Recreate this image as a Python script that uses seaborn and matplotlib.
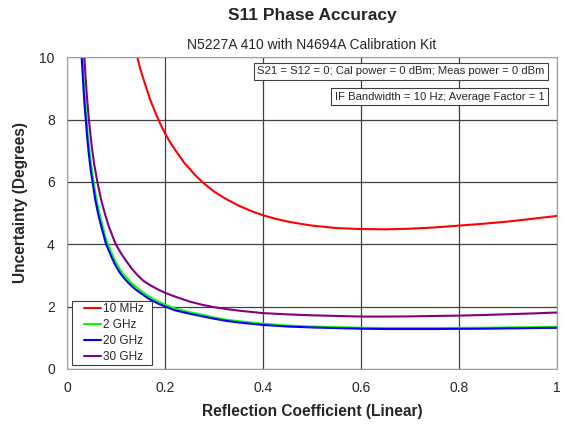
import pandas as pd
import seaborn as sns
import matplotlib.pyplot as plt
from matplotlib.legend_handler import HandlerLine2D
from matplotlib.lines import Line2D

# values
x_10mhz = [0.13, 0.135, 0.143, 0.15, 0.16, 0.17, 0.18, 0.19, 0.2, 0.21, 0.225, 0.24, 0.25,
           0.26, 0.275, 0.28, 0.3, 0.32, 0.35, 0.375, 0.4, 0.425, 0.45, 0.475, 0.5,
           0.55, 0.6, 0.65, 0.7, 0.75, 0.8, 0.85, 0.9, 0.95, 1.0]
y_10mhz = [11.0, 10.49, 10.0, 9.57, 9.08, 8.61, 8.22, 7.86, 7.55, 7.27, 6.92, 6.59, 6.42,
           6.24, 6.01, 5.94, 5.69, 5.49, 5.24, 5.07, 4.93, 4.82, 4.73, 4.66, 4.60,
           4.52, 4.49, 4.48, 4.50, 4.54, 4.60, 4.66, 4.73, 4.82, 4.91]

x_2ghz = [0.025, 0.027, 0.029, 0.031, 0.033, 0.035, 0.038, 0.041, 0.044, 0.048, 0.052,
          0.057, 0.063, 0.07, 0.078, 0.084, 0.09, 0.099, 0.108, 0.114, 0.12, 0.13, 0.14,
          0.15, 0.16, 0.17, 0.185, 0.2, 0.22, 0.25, 0.275, 0.3, 0.325, 0.35, 0.375, 0.4,
          0.45, 0.5, 0.55, 0.6, 0.65, 0.7, 0.75, 0.8, 0.85, 0.9, 0.95, 1.0]
y_2ghz = [12.18, 11.34, 10.47, 9.94, 9.37, 8.86, 8.26, 7.64, 7.16, 6.61, 6.19,
          5.65, 5.17, 4.71, 4.21, 3.96, 3.73, 3.42, 3.18, 3.05, 2.94, 2.77, 2.63,
          2.51, 2.40, 2.29, 2.17, 2.06, 1.94, 1.82, 1.74, 1.65, 1.58, 1.53, 1.49, 1.45,
          1.39, 1.36, 1.34, 1.32, 1.31, 1.31, 1.31, 1.315, 1.32, 1.33, 1.34, 1.35]

x_20ghz = [0.025, 0.027, 0.029, 0.031, 0.033, 0.035, 0.038, 0.041, 0.044, 0.048, 0.052,
           0.057, 0.063, 0.07, 0.078, 0.084, 0.09, 0.099, 0.108, 0.114, 0.12, 0.13, 0.14,
           0.15, 0.16, 0.17, 0.185, 0.2, 0.22, 0.25, 0.275, 0.3, 0.325, 0.35, 0.375, 0.4,
           0.45, 0.5, 0.55, 0.6, 0.65, 0.7, 0.75, 0.8, 0.85, 0.9, 0.95, 1.0]
y_20ghz = [11.7, 10.88, 10.05, 9.54, 8.99, 8.51, 7.93, 7.34, 6.88, 6.35, 5.95,
           5.43, 4.97, 4.53, 4.06, 3.82, 3.6, 3.3, 3.07, 2.95, 2.84, 2.68, 2.54,
           2.43, 2.32, 2.22, 2.1, 2.0, 1.88, 1.77, 1.69, 1.61, 1.54, 1.49, 1.45, 1.41,
           1.36, 1.33, 1.31, 1.29, 1.28, 1.28, 1.28, 1.285, 1.29, 1.30, 1.31, 1.32]

x_30ghz = [0.03, 0.032, 0.0347, 0.037, 0.04, 0.0437, 0.047, 0.05, 0.055, 0.062, 0.069,
           0.077, 0.085, 0.092, 0.099, 0.11, 0.12, 0.131, 0.142, 0.155, 0.17, 0.185, 0.2,
           0.22, 0.25, 0.275, 0.3, 0.325, 0.35, 0.375, 0.4, 0.45, 0.5, 0.55, 0.6, 0.65,
           0.7, 0.75, 0.8, 0.85, 0.9, 0.95, 1.0]
y_30ghz = [11.5, 10.8, 10.0, 9.42, 8.75, 8.05, 7.55, 7.12, 6.55, 5.95, 5.43,
           4.96, 4.56, 4.27, 4.0, 3.7, 3.47, 3.23, 3.03, 2.83, 2.68, 2.55, 2.44,
           2.32, 2.16, 2.06, 1.98, 1.92, 1.87, 1.83, 1.79, 1.75, 1.72, 1.70, 1.68, 1.68,
           1.685, 1.70, 1.71, 1.73, 1.755, 1.78, 1.81]

series = ["10 MHz", "2 GHz", "20 GHz", "30 GHz"]
colors = ["#ff0000", "#00ff00", "#0000ff", "#800080"]

frames = []
for name, xs, ys in zip(series,
                        [x_10mhz, x_2ghz, x_20ghz, x_30ghz],
                        [y_10mhz, y_2ghz, y_20ghz, y_30ghz]):
    frames.append(pd.DataFrame({"x": xs, "y": ys, "freq": name}))
df = pd.concat(frames, ignore_index=True)

sns.set_style("white")
plt.rcParams["font.family"] = ["Liberation Sans", "DejaVu Sans"]

fig = plt.figure(figsize=(5.66, 4.25), dpi=100)
ax = fig.add_axes([0.119, 0.132, 0.865, 0.733])

sns.lineplot(data=df, x="x", y="y", hue="freq", hue_order=series,
             palette=colors, linewidth=1.5, sort=True, ax=ax)

ax.set_xlim(0, 1)
ax.set_ylim(0, 10)
ax.set_xticks([0, 0.2, 0.4, 0.6, 0.8, 1])
ax.set_xticklabels(["0", "0.2", "0.4", "0.6", "0.8", "1"])
ax.set_yticks([0, 2, 4, 6, 8, 10])
ax.tick_params(axis="x", labelsize=10, length=0, pad=9)
ax.tick_params(axis="y", labelsize=10, length=0, pad=9)
ax.grid(True, color="#404040", linewidth=0.9)
for s in ax.spines.values():
    s.set_color("#a0a0a0")

ax.set_xlabel("Reflection Coefficient (Linear)", fontsize=11.2, fontweight="bold", labelpad=6.5)
ax.set_ylabel("Uncertainty (Degrees)", fontsize=11.2, fontweight="bold")
ax.yaxis.set_label_coords(-0.080, 0.533)

fig.text(0.551, 0.963, "S11 Phase Accuracy", ha="center", va="center",
         fontsize=12.5, fontweight="bold")
fig.text(0.551, 0.893, "N5227A 410 with N4694A Calibration Kit", ha="center",
         va="center", fontsize=10)

box = dict(boxstyle="square,pad=0.32", facecolor="white", edgecolor="#404040", linewidth=0.8)
ax.text(0.975, 0.955, "S21 = S12 = 0; Cal power = 0 dBm; Meas power = 0 dBm",
        transform=ax.transAxes, ha="right", va="center", fontsize=8.1, bbox=box)
ax.text(0.975, 0.874, "IF Bandwidth = 10 Hz; Average Factor = 1",
        transform=ax.transAxes, ha="right", va="center", fontsize=8.1, bbox=box)

handles = [Line2D([], [], color=c, linewidth=1.5) for c in colors]
leg = ax.legend(handles, series, loc="lower left", fontsize=8.5,
                handlelength=2.2, handletextpad=0.17, borderpad=0.2,
                labelspacing=0.33, borderaxespad=0, fancybox=False, framealpha=1,
                bbox_to_anchor=(0.01, 0.012, 0.163, 0.2), mode="expand",
                handler_map={Line2D: HandlerLine2D(xpad=0.76)})
leg.get_frame().set_edgecolor("#404040")
leg.get_frame().set_linewidth(0.8)

fig.savefig("out.png", dpi=100)
